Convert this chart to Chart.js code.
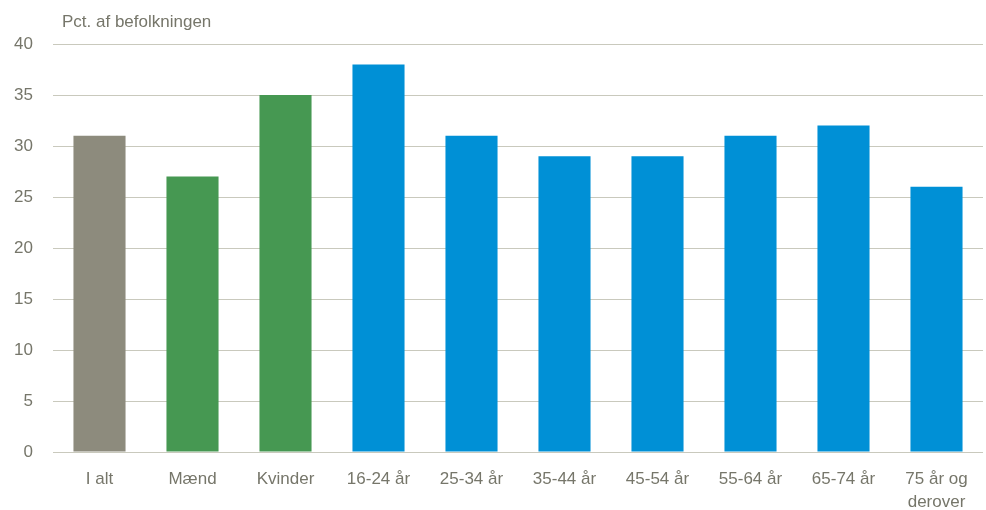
<!DOCTYPE html>
<html>
<head>
<meta charset="utf-8">
<script src="https://cdn.jsdelivr.net/npm/chart.js@4"></script>
<style>
  html, body { margin: 0; padding: 0; background: #ffffff; }
  #wrap { width: 986px; height: 510px; }
</style>
</head>
<body>
<div id="wrap"><canvas id="barChart"></canvas></div>
<script>
var categories = ['I alt', 'Mænd', 'Kvinder', '16-24 år', '25-34 år', '35-44 år', '45-54 år', '55-64 år', '65-74 år', ['75 år og', 'derover']];
var values = [31, 27, 35, 38, 31, 29, 29, 31, 32, 26];
var barColors = ['#8d8b7d', '#469852', '#469852', '#0090d6', '#0090d6', '#0090d6', '#0090d6', '#0090d6', '#0090d6', '#0090d6'];
var yTicks = [0, 5, 10, 15, 20, 25, 30, 35, 40];
var unitLabel = 'Pct. af befolkningen';

var textColor = '#76766a';

// unit label above the plot, like the original
var unitPlugin = {
    id: 'unitLabel',
    afterDraw: function (chart) {
        var c = chart.ctx;
        c.save();
        c.font = '17px "Liberation Sans", Arial, sans-serif';
        c.fillStyle = textColor;
        c.textBaseline = 'alphabetic';
        c.fillText(unitLabel, chart.chartArea.left + 9, 27);
        c.restore();
    }
};

var ctx = document.getElementById('barChart').getContext('2d');

var barChart = new Chart(ctx, {
    type: 'bar',
    data: {
        labels: categories,
        datasets: [{
            data: values,
            backgroundColor: barColors,
            borderWidth: 0,
            categoryPercentage: 1,
            barPercentage: 0.56
        }]
    },
    options: {
        responsive: true,
        maintainAspectRatio: false,
        animation: false,
        layout: {
            padding: { left: 0, right: 3, top: 44, bottom: 0 }
        },
        plugins: {
            legend: { display: false },
            tooltip: { enabled: false }
        },
        scales: {
            y: {
                min: 0,
                max: 40,
                afterBuildTicks: function (axis) {
                    axis.ticks = yTicks.map(function (v) { return { value: v }; });
                },
                afterFit: function (axis) {
                    axis.width = 53;
                },
                ticks: {
                    padding: 20,
                    color: textColor,
                    font: { family: '"Liberation Sans", Arial, sans-serif', size: 17 }
                },
                border: { display: false },
                grid: {
                    color: '#c9c9bd',
                    lineWidth: 1,
                    drawTicks: false
                }
            },
            x: {
                afterFit: function (axis) {
                    axis.height = 58;
                },
                ticks: {
                    padding: 15,
                    color: textColor,
                    maxRotation: 0,
                    minRotation: 0,
                    font: { family: '"Liberation Sans", Arial, sans-serif', size: 17, lineHeight: 1.4 }
                },
                border: { display: false },
                grid: { display: false, drawTicks: false }
            }
        }
    },
    plugins: [unitPlugin]
});
</script>
</body>
</html>
